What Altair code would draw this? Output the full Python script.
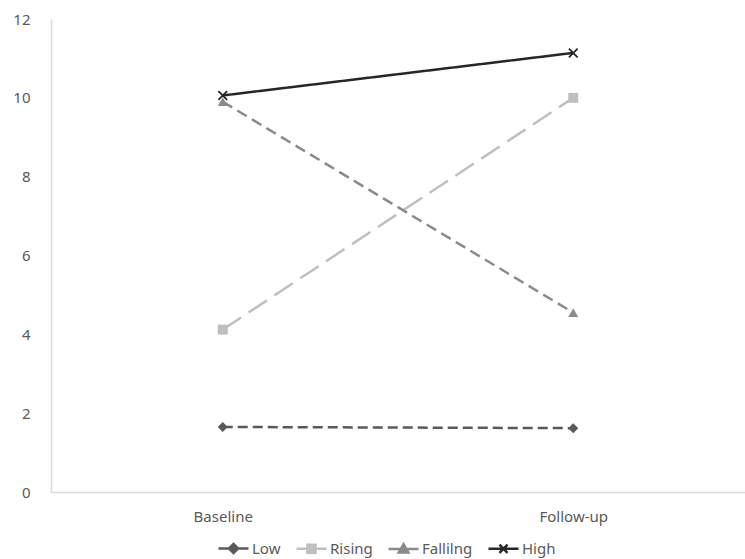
import altair as alt
import pandas as pd

# ---- data ----
series = ["Low", "Rising", "Fallilng", "High"]
times = ["Baseline", "Follow-up"]
baseline_vals = [1.65, 4.12, 9.9, 10.06]
followup_vals = [1.62, 10.0, 4.55, 11.14]
y_ticks = [0, 2, 4, 6, 8, 10, 12]

rows = []
for s, b, f in zip(series, baseline_vals, followup_vals):
    rows.append({"series": s, "time": times[0], "value": b})
    rows.append({"series": s, "time": times[1], "value": f})
df = pd.DataFrame(rows)

# ---- styles ----
colors = ["#595959", "#bfbfbf", "#8a8a8a", "#262626"]
dashes = [[10, 5], [22, 9], [11, 6], [1, 0]]
widths = [2.5, 2.5, 2.5, 3.2]
marker_shapes = [
    "diamond",
    "square",
    "triangle-up",
    "M-1,-0.75L-0.75,-1L0,-0.25L0.75,-1L1,-0.75L0.25,0L1,0.75L0.75,1L0,0.25L-0.75,1L-1,0.75L-0.25,0Z",
]
legend_shapes = [
    "M-1,0L1,0M0,-0.3L0.3,0L0,0.3L-0.3,0Z",
    "M-1,0L1,0M-0.27,-0.27L0.27,-0.27L0.27,0.27L-0.27,0.27Z",
    "M-1,0L1,0M0,-0.32L0.32,0.24L-0.32,0.24Z",
    "M-1,0L1,0M-0.27,-0.27L0.27,0.27M0.27,-0.27L-0.27,0.27",
]

FONT = "Noto Sans"
GRAY = "#595959"

x_enc = alt.X(
    "time:N",
    sort=times,
    scale=alt.Scale(type="point", padding=0.49),
    axis=alt.Axis(
        title=None, labelAngle=0, ticks=False, tickSize=0, grid=False,
        domainColor="#d9d9d9", domainWidth=1.5, labelPadding=17,
        labelFont=FONT, labelFontSize=15, labelColor=GRAY,
    ),
)
y_enc = alt.Y(
    "value:Q",
    scale=alt.Scale(domain=[0, 12], nice=False, zero=True),
    axis=alt.Axis(
        title=None, values=y_ticks, ticks=False, tickSize=0, grid=False,
        domainColor="#d9d9d9", domainWidth=1.5, labelPadding=21,
        labelFont=FONT, labelFontSize=15, labelColor=GRAY,
    ),
)

base = alt.Chart(df)

lines = base.mark_line().encode(
    x=x_enc,
    y=y_enc,
    color=alt.Color("series:N", scale=alt.Scale(domain=series, range=colors), legend=None),
    strokeDash=alt.StrokeDash("series:N", scale=alt.Scale(domain=series, range=dashes), legend=None),
    strokeWidth=alt.StrokeWidth("series:N", scale=alt.Scale(domain=series, range=widths), legend=None),
)

points = base.mark_point(filled=True, opacity=1, size=100).encode(
    x=x_enc,
    y=y_enc,
    color=alt.Color("series:N", scale=alt.Scale(domain=series, range=colors), legend=None),
    shape=alt.Shape("series:N", scale=alt.Scale(domain=series, range=marker_shapes), legend=None),
)

leg = alt.Legend(
    title=None, orient="none", legendX=166, legendY=513, direction="horizontal",
    symbolSize=900, symbolStrokeWidth=2.5, symbolOpacity=1,
    labelFont=FONT, labelFontSize=15, labelColor=GRAY, labelOffset=2,
    columnPadding=10,
)
legend_layer = base.mark_point(opacity=0, filled=True).encode(
    x=x_enc,
    y=y_enc,
    fill=alt.Fill("series:N", scale=alt.Scale(domain=series, range=colors), legend=leg),
    stroke=alt.Stroke("series:N", scale=alt.Scale(domain=series, range=colors), legend=leg),
    shape=alt.Shape("series:N", scale=alt.Scale(domain=series, range=legend_shapes), legend=leg),
)

chart = (
    alt.layer(lines, points, legend_layer)
    .resolve_scale(shape="independent", fill="independent", stroke="independent")
    .resolve_legend(shape="independent", fill="independent", stroke="independent")
    .properties(
        width=694, height=473,
        autosize=alt.AutoSizeParams(type="none"),
        padding={"left": 51, "top": 19, "right": 0, "bottom": 67},
        background="white",
    )
    .configure_view(stroke=None)
)

chart.save("out.html", embed_options={"renderer": "svg", "actions": False})
